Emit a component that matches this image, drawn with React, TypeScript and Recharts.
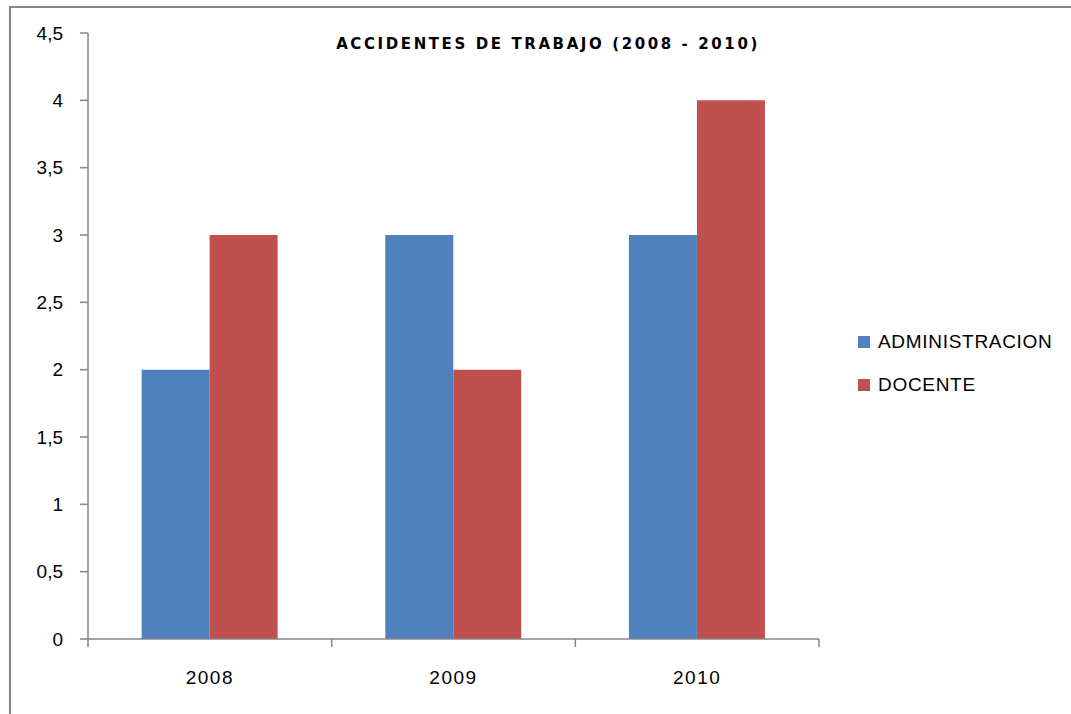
import React from 'react';
import { BarChart, Bar, XAxis, YAxis, Legend } from 'recharts';

const years = ['2008', '2009', '2010'];
const administracion = [2, 3, 3];
const docente = [3, 2, 4];
const yTicks = [0, 0.5, 1, 1.5, 2, 2.5, 3, 3.5, 4, 4.5];
const title = 'ACCIDENTES DE TRABAJO (2008 - 2010)';
const seriesNames = ['ADMINISTRACION', 'DOCENTE'];
const seriesColors = ['#4F81BD', '#C0504D'];

const data = years.map((y, i) => ({
  year: y,
  [seriesNames[0]]: administracion[i],
  [seriesNames[1]]: docente[i],
}));

const AXIS = '#868686';
const FONT = '"Liberation Sans", Arial, sans-serif';

const XTick = (props: any) => {
  const { x, y, payload, index, width } = props;
  const half = payload && payload.offset ? payload.offset : width / (years.length * 2);
  return (
    <g>
      <line x1={x - half} y1={y} x2={x - half} y2={y + 8} stroke={AXIS} strokeWidth={1.5} />
      {index === years.length - 1 && (
        <line x1={x + half} y1={y} x2={x + half} y2={y + 8} stroke={AXIS} strokeWidth={1.5} />
      )}
      <text
        x={x}
        y={y + 38}
        textAnchor="middle"
        dominantBaseline="central"
        fontFamily={FONT}
        fontSize={19}
        letterSpacing={1.5}
        fill="#000"
      >
        {payload.value}
      </text>
    </g>
  );
};

const LegendContent = (props: any) => {
  const { payload } = props;
  return (
    <div style={{ fontFamily: FONT }}>
      {(payload || []).map((p: any, i: number) => (
        <div key={i} style={{ display: 'flex', alignItems: 'center', height: 43 }}>
          <div style={{ width: 12, height: 12, background: p.color, marginRight: 8 }} />
          <span style={{ fontSize: 19, letterSpacing: 0.7, color: '#000' }}>{p.value}</span>
        </div>
      ))}
    </div>
  );
};

export default function App() {
  return (
    <div style={{ position: 'absolute', left: 0, top: 0, width: 1071, height: 714, background: '#fff' }}>
      <div style={{ position: 'absolute', left: 10, top: 6, right: 0, borderTop: `2px solid ${AXIS}` }} />
      <div style={{ position: 'absolute', left: 9, top: 6, bottom: 0, borderLeft: `2px solid ${AXIS}` }} />
      <div
        style={{
          position: 'absolute',
          left: 323,
          top: 35,
          width: 450,
          textAlign: 'center',
          fontFamily: '"DejaVu Sans", sans-serif',
          fontWeight: 'bold',
          fontSize: 15,
          letterSpacing: 2.6,
          color: '#000',
          whiteSpace: 'nowrap',
        }}
      >
        {title}
      </div>
      <BarChart
        width={1071}
        height={714}
        data={data}
        margin={{ top: 33, right: 252, bottom: 0, left: 0 }}
        barGap={0}
        barCategoryGap="22%"
      >
        <XAxis
          dataKey="year"
          height={75}
          tickLine={false}
          tickSize={0}
          tickMargin={0}
          axisLine={{ stroke: AXIS, strokeWidth: 1.5 }}
          tick={<XTick />}
          interval={0}
        />
        <YAxis
          width={88}
          domain={[0, 4.5]}
          ticks={yTicks}
          interval={0}
          tickSize={8}
          tickMargin={17}
          tickLine={{ stroke: AXIS, strokeWidth: 1.5 }}
          axisLine={{ stroke: AXIS, strokeWidth: 1.5 }}
          tickFormatter={(v: number) => String(v).replace('.', ',')}
          tick={{ fill: '#000', fontSize: 19, fontFamily: FONT }}
        />
        <Legend
          layout="vertical"
          align="center"
          verticalAlign="middle"
          content={<LegendContent />}
          wrapperStyle={{ left: 858, top: 320, width: 210 }}
        />
        <Bar dataKey={seriesNames[0]} fill={seriesColors[0]} isAnimationActive={false} />
        <Bar dataKey={seriesNames[1]} fill={seriesColors[1]} isAnimationActive={false} />
      </BarChart>
    </div>
  );
}
